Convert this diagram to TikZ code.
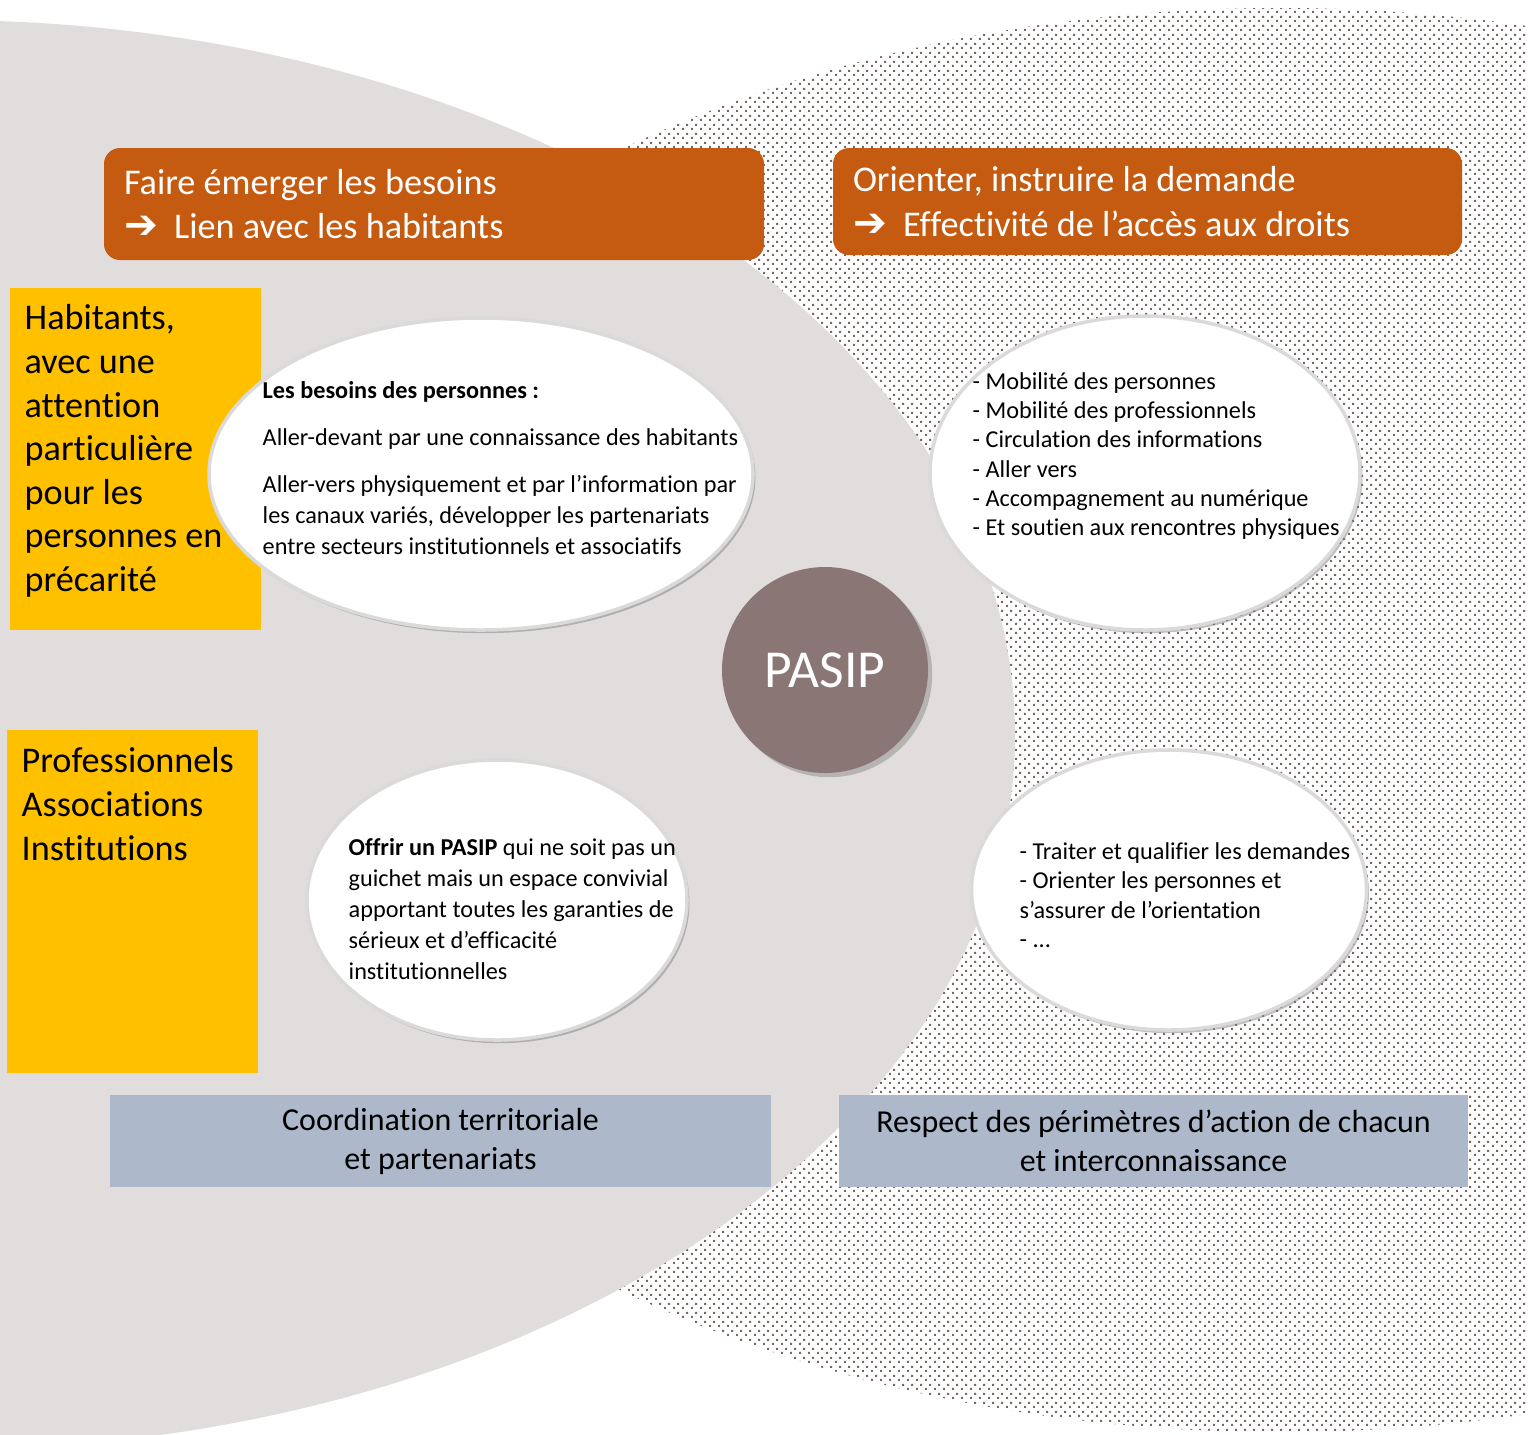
\documentclass[tikz,border=0pt]{standalone}
\usepackage{fontspec}
\setmainfont{Carlito}[Ligatures=NoCommon]
\newfontfamily\arrowfont{DejaVu Sans}
\usetikzlibrary{positioning, shapes.geometric, shadows, patterns.meta}

\definecolor{areagrey}{HTML}{E2DDDD}
\definecolor{dotbrown}{HTML}{7A6464}
\definecolor{pasipbrown}{HTML}{8B7676}
\definecolor{headorange}{HTML}{C55A11}
\definecolor{sideyellow}{HTML}{FFC000}
\definecolor{footblue}{HTML}{ADB9CA}
\definecolor{rimgrey}{HTML}{DADADA}

% staggered dot grid for the right-hand area
\tikzdeclarepattern{
  name=smalldots,
  type=colored,
  bounding box={(0pt,0pt) and (2.42pt,2.44pt)},
  tile size={(2.42pt,2.44pt)},
  code={
    \fill[dotbrown] (0pt,0pt) rectangle (0.6pt,0.6pt);
    \fill[dotbrown] (1.21pt,1.22pt) rectangle (1.81pt,1.82pt);
  }
}

\tikzset{
headbox/.style={fill=headorange, rounded corners=0.16cm, text=white, inner xsep=0.2cm, inner ysep=0pt, align=flush left, font=\fontsize{10.3}{12.6}\selectfont}, % orange title bars
sidebox/.style={fill=sideyellow, inner sep=0pt}, % yellow blocks on the left
sidetext/.style={anchor=north west, inner sep=0pt, text width=2.4cm, align=flush left, font=\fontsize{10.3}{12.4}\selectfont},
footbox/.style={fill=footblue, inner sep=0pt, align=center, font=\fontsize{9.1}{11.1}\selectfont}, % bottom bars
bubble/.style={ellipse, fill=white, draw=rimgrey, line width=1pt, inner sep=0pt, drop shadow={shadow xshift=0.7pt, shadow yshift=-0.9pt, opacity=0.5, fill=black!50}},
bubbletext/.style={anchor=west, inner sep=0pt, align=left, font=\fontsize{6.9}{8.8}\selectfont},
}
\newcommand{\thenarrow}{{\arrowfont\bfseries\fontsize{11.5}{12}\selectfont ➔}\hspace{0.45em}}

\begin{document}
\begin{tikzpicture}
\useasboundingbox[fill=white] (0,0) rectangle (15.28,-14.34);

% background areas
\fill[pattern=smalldots] (12.80,-7.20) ellipse [x radius=11.01, y radius=7.12];
\fill[areagrey] (-0.60,-7.35) ellipse [x radius=10.75, y radius=7.15];

% title bars
\node[headbox, text width=6.2cm, minimum height=1.12cm] (emerger) at (4.34,-2.04)
  {Faire émerger les besoins\\\thenarrow Lien avec les habitants};
\node[headbox, text width=5.89cm, minimum height=1.07cm] (orienter) at (11.475,-2.015)
  {Orienter, instruire la demande\\\thenarrow Effectivité de l’accès aux droits};

% publics
\node[sidebox, minimum width=2.51cm, minimum height=3.42cm] (habitants) at (1.355,-4.59) {};
\node[sidetext] (habitantstxt) at (0.24,-3.04)
  {Habitants,\\avec une\\attention\\particulière\\pour les\\personnes en\\précarité};
\node[sidebox, minimum width=2.51cm, minimum height=3.43cm] (professionnels) at (1.325,-9.015) {};
\node[sidetext] (professionnelstxt) at (0.21,-7.47)
  {Professionnels\\Associations\\Institutions};

% bottom bars
\node[footbox, minimum width=6.61cm, minimum height=0.92cm] (coordination) at (4.405,-11.41)
  {Coordination territoriale\\et partenariats};
\node[footbox, minimum width=6.29cm, minimum height=0.92cm] (respect) at (11.535,-11.41)
  {Respect des périmètres d’action de chacun\\et interconnaissance};

% bubbles
\node[bubble, minimum width=5.44cm, minimum height=3.12cm] (besoins) at (4.81,-4.74) {};
\node[bubbletext] (besoinstxt) at (2.62,-4.68)
  {\textbf{Les besoins des personnes :}\\[4.7pt]
   Aller-devant par une connaissance des habitants\\[4.5pt]
   Aller-vers physiquement et par l’information par\\
   les canaux variés, développer les partenariats\\
   entre secteurs institutionnels et associatifs};

\node[bubble, minimum width=4.30cm, minimum height=3.14cm] (mobilite) at (11.45,-4.73) {};
\node[bubbletext, font=\fontsize{6.9}{8.3}\selectfont] (mobilitetxt) at (9.72,-4.56)
  {- Mobilité des personnes\\- Mobilité des professionnels\\- Circulation des informations\\
   - Aller vers\\- Accompagnement au numérique\\- Et soutien aux rencontres physiques};

\node[bubble, minimum width=3.80cm, minimum height=2.80cm] (offrir) at (4.97,-9.00) {};
\node[bubbletext] (offrirtxt) at (3.48,-9.09)
  {\textbf{Offrir un PASIP} qui ne soit pas un\\guichet mais un espace convivial\\
   apportant toutes les garanties de\\sérieux et d’efficacité\\institutionnelles};

\node[bubble, minimum width=3.95cm, minimum height=2.80cm] (traiter) at (11.69,-8.90) {};
\node[bubbletext, font=\fontsize{6.9}{8.4}\selectfont] (traitertxt) at (10.19,-8.95)
  {- Traiter et qualifier les demandes\\- Orienter les personnes et\\s’assurer de l’orientation\\- ...};

% centre
\node[circle, fill=pasipbrown, minimum size=2.06cm, text=white, font=\fontsize{15.2}{18}\selectfont,
  drop shadow={shadow xshift=1.2pt, shadow yshift=-1.2pt, opacity=0.35, fill=black!60}] (pasip) at (8.25,-6.70) {PASIP};
\end{tikzpicture}
\end{document}
